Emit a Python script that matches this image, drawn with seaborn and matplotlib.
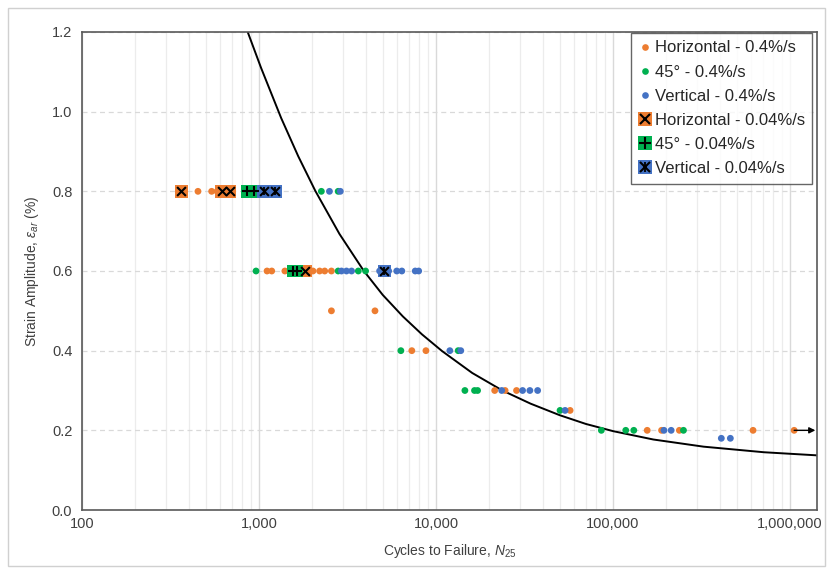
import numpy as np
import pandas as pd
import seaborn as sns
import matplotlib.pyplot as plt
from matplotlib.lines import Line2D
from matplotlib.legend_handler import HandlerTuple
from matplotlib.patches import Rectangle
from matplotlib.ticker import FuncFormatter, LogLocator, MultipleLocator

# Data (cycles to failure, strain amplitude %)
h04_n = [452, 540, 580, 1110, 1180, 1400, 1480, 2018, 2200, 2350, 2565, 2565, 4520,
         7300, 8770, 21450, 24560, 28500, 57200, 156000, 188000, 237000, 618000, 1055000]
h04_e = [0.8, 0.8, 0.8, 0.6, 0.6, 0.6, 0.6, 0.6, 0.6, 0.6, 0.6, 0.5, 0.5,
         0.4, 0.4, 0.3, 0.3, 0.3, 0.25, 0.2, 0.2, 0.2, 0.2, 0.2]

g04_n = [2250, 2800, 962, 2800, 3640, 4000, 6330, 13340, 14560, 16500, 17170,
         50200, 85900, 118000, 131000, 250000]
g04_e = [0.8, 0.8, 0.6, 0.6, 0.6, 0.6, 0.4, 0.4, 0.3, 0.3, 0.3,
         0.25, 0.2, 0.2, 0.2, 0.2]

v04_n = [2500, 2880, 2923, 3120, 3333, 4800, 5400, 6000, 6410, 7630, 7980,
         11970, 13800, 23500, 30830, 33900, 37500, 53600, 194000, 213000, 409000, 460000]
v04_e = [0.8, 0.8, 0.6, 0.6, 0.6, 0.6, 0.6, 0.6, 0.6, 0.6, 0.6,
         0.4, 0.4, 0.3, 0.3, 0.3, 0.3, 0.25, 0.2, 0.2, 0.18, 0.18]

h004_n = [364, 616, 684, 1824]
h004_e = [0.8, 0.8, 0.8, 0.6]
g004_n = [855, 935, 1560, 1640]
g004_e = [0.8, 0.8, 0.6, 0.6]
v004_n = [1064, 1233, 5110]
v004_e = [0.8, 0.8, 0.6]

# fitted life curve
curve_n = [855, 1027, 1334, 1666, 2081, 2848, 3898, 4999, 6494, 8326, 10818,
           16015, 23714, 34206, 49990, 70270, 100000, 168800, 324700, 711800, 1443000]
curve_e = [1.205, 1.110, 0.984, 0.888, 0.801, 0.693, 0.601, 0.540, 0.486, 0.441,
           0.399, 0.344, 0.300, 0.267, 0.238, 0.216, 0.198, 0.177, 0.159, 0.145, 0.137]

runout_n = [1055000, 1390000]
runout_e = 0.2

labels = ["Horizontal - 0.4%/s", "45° - 0.4%/s", "Vertical - 0.4%/s",
          "Horizontal - 0.04%/s", "45° - 0.04%/s", "Vertical - 0.04%/s"]
orange, green, blue = "#ED7D31", "#00B050", "#4472C4"

dots = pd.concat([
    pd.DataFrame({"N": h04_n, "eps": h04_e, "series": labels[0]}),
    pd.DataFrame({"N": g04_n, "eps": g04_e, "series": labels[1]}),
    pd.DataFrame({"N": v04_n, "eps": v04_e, "series": labels[2]}),
])
squares = pd.concat([
    pd.DataFrame({"N": h004_n, "eps": h004_e, "series": labels[3]}),
    pd.DataFrame({"N": g004_n, "eps": g004_e, "series": labels[4]}),
    pd.DataFrame({"N": v004_n, "eps": v004_e, "series": labels[5]}),
])
curve = pd.DataFrame({"N": curve_n, "eps": curve_e})

sns.set_style("white")
plt.rcParams["font.family"] = ["Liberation Sans", "DejaVu Sans"]
plt.rcParams["mathtext.fontset"] = "custom"
plt.rcParams["mathtext.rm"] = "Liberation Sans"
plt.rcParams["mathtext.it"] = "Liberation Sans:italic"

fig = plt.figure(figsize=(8.33, 5.74), dpi=100)
ax = fig.add_axes([82 / 833, 64 / 574, 735 / 833, 478 / 574])
fig.patches.append(Rectangle((8 / 833, 8 / 574), 817 / 833, 558 / 574,
                             transform=fig.transFigure, fill=False,
                             edgecolor="#d0d0d0", linewidth=1))

ax.set_xscale("log")
ax.set_xlim(100, 1.42e6)
ax.set_ylim(0, 1.2)

# grid
ax.xaxis.set_minor_locator(LogLocator(base=10, subs=np.arange(2, 10)))
ax.grid(which="minor", axis="x", color="#ececec", linewidth=0.9)
ax.grid(which="major", axis="x", color="#d9d9d9", linewidth=1.0)
ax.grid(which="major", axis="y", color="#d9d9d9", linestyle=(0, (4, 3)), linewidth=0.9)
ax.set_axisbelow(True)

sns.lineplot(data=curve, x="N", y="eps", color="black", linewidth=1.4, ax=ax,
             sort=False, zorder=2)

sns.scatterplot(data=dots, x="N", y="eps", hue="series",
                palette={labels[0]: orange, labels[1]: green, labels[2]: blue},
                s=24, linewidth=0, legend=False, ax=ax, zorder=3)

sns.scatterplot(data=squares, x="N", y="eps", hue="series", marker="s",
                palette={labels[3]: orange, labels[4]: green, labels[5]: blue},
                s=85, linewidth=0, legend=False, ax=ax, zorder=4)
sq_x = squares[squares["series"] != labels[4]]
sq_p = squares[squares["series"] == labels[4]]
sq_v = squares[squares["series"] == labels[5]]
sns.scatterplot(data=sq_x, x="N", y="eps", marker="x", color="black", s=40,
                linewidth=1.5, legend=False, ax=ax, zorder=5)
sns.scatterplot(data=sq_p, x="N", y="eps", marker="+", color="black", s=55,
                linewidth=1.5, legend=False, ax=ax, zorder=5)
sns.scatterplot(data=sq_v, x="N", y="eps", marker="|", color="black", s=40,
                linewidth=1.3, legend=False, ax=ax, zorder=5)

ax.annotate("", xy=(runout_n[1], runout_e), xytext=(runout_n[0], runout_e),
            arrowprops=dict(arrowstyle="-|>", color="black", lw=1.0,
                            mutation_scale=9, shrinkA=0, shrinkB=0), zorder=6)

# axes styling
ax.yaxis.set_major_locator(MultipleLocator(0.2))
ax.yaxis.set_minor_locator(MultipleLocator(0.05))
ax.yaxis.set_major_formatter(FuncFormatter(lambda v, p: f"{v:.1f}"))
ax.xaxis.set_major_formatter(FuncFormatter(lambda v, p: f"{int(round(v)):,}"))
ax.xaxis.set_minor_formatter(FuncFormatter(lambda v, p: ""))
ax.tick_params(which="major", direction="inout", length=6, width=1,
               color="#595959", labelsize=10.5, labelcolor="#404040", pad=4)
ax.tick_params(which="minor", direction="inout", length=4, width=0.8, color="#595959")
ax.tick_params(axis="x", which="major", pad=2)
for s in ax.spines.values():
    s.set_color("#595959")
    s.set_linewidth(1.2)

ax.set_xlabel(r"Cycles to Failure, $N_{25}$", fontsize=10, color="#404040", labelpad=8)
ax.set_ylabel(r"Strain Amplitude, $ε_{ar}$ (%)", fontsize=10, color="#404040", labelpad=8)

# legend
def dot(c):
    return Line2D([], [], marker="o", linestyle="", color=c, markersize=4.8, markeredgewidth=0)

def sq(c):
    return Line2D([], [], marker="s", linestyle="", color=c, markersize=9.5, markeredgewidth=0)

def mk(m, ms=6.5, lw=1.5):
    return Line2D([], [], marker=m, linestyle="", color="black", markersize=ms, markeredgewidth=lw)

handles = [dot(orange), dot(green), dot(blue),
           (sq(orange), mk("x")), (sq(green), mk("+", 8)), (sq(blue), mk("x"), mk("|", 6.5, 1.3))]
leg = ax.legend(handles, labels, loc="upper right", bbox_to_anchor=(0.9935, 0.998),
                fontsize=12, frameon=True, fancybox=False, handlelength=0.7,
                handletextpad=0.25, labelspacing=0.55, borderpad=0.45,
                borderaxespad=0.0,
                handler_map={tuple: HandlerTuple(ndivide=1, pad=0)})
leg.get_frame().set_edgecolor("#404040")
leg.get_frame().set_linewidth(1.0)
for t in leg.get_texts():
    t.set_color("#262626")

fig.savefig("out.png", dpi=100)
